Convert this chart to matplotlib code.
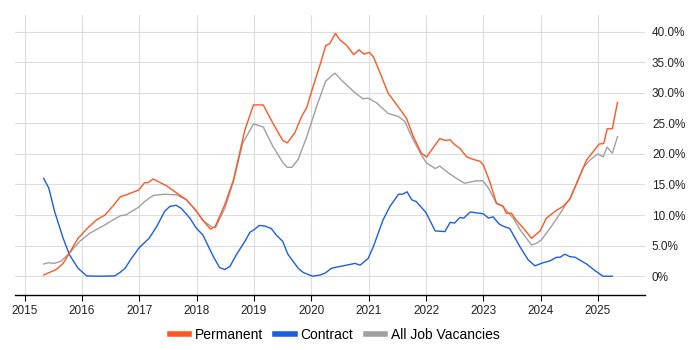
import matplotlib
matplotlib.use("Agg")
import matplotlib.pyplot as plt
from matplotlib.ticker import FuncFormatter, FixedLocator
from matplotlib.lines import Line2D

plt.rcParams['font.family'] = ['Liberation Sans', 'DejaVu Sans']

perm_x = [2015.33, 2015.55, 2015.67, 2015.78, 2015.93, 2016.10, 2016.25, 2016.40, 2016.54, 2016.67,
          2016.77, 2016.99, 2017.09, 2017.15, 2017.24, 2017.34, 2017.47, 2017.62, 2017.82, 2017.99,
          2018.11, 2018.24, 2018.32, 2018.49, 2018.64, 2018.84, 2018.99, 2019.16, 2019.33, 2019.50,
          2019.58, 2019.71, 2019.83, 2019.92, 2020.03, 2020.16, 2020.25, 2020.32, 2020.42, 2020.50,
          2020.61, 2020.74, 2020.83, 2020.92, 2021.01, 2021.08, 2021.20, 2021.34, 2021.49, 2021.66,
          2021.78, 2021.92, 2022.01, 2022.24, 2022.33, 2022.42, 2022.50, 2022.59, 2022.71, 2022.82,
          2022.94, 2023.00, 2023.11, 2023.23, 2023.34, 2023.40, 2023.49, 2023.57, 2023.72, 2023.84,
          2023.99, 2024.10, 2024.28, 2024.39, 2024.51, 2024.63, 2024.80, 2024.92, 2025.02, 2025.10,
          2025.16, 2025.25, 2025.34]
perm_y = [0.2, 1.1, 2.1, 3.8, 6.2, 7.9, 9.2, 10.0, 11.5, 13.0,
          13.3, 14.1, 15.3, 15.3, 15.9, 15.4, 14.8, 13.8, 12.5, 10.7,
          9.1, 7.7, 8.1, 11.7, 15.7, 23.9, 28.0, 28.0, 25.0, 22.2,
          21.8, 23.4, 26.1, 27.6, 31.0, 34.8, 37.7, 38.0, 39.7, 38.6,
          37.8, 36.2, 37.0, 36.3, 36.6, 35.9, 33.2, 29.9, 28.0, 25.8,
          22.8, 20.1, 19.5, 22.5, 22.2, 22.3, 21.5, 20.9, 19.5, 19.1,
          18.8, 18.2, 15.5, 11.9, 11.5, 10.3, 10.3, 9.2, 7.6, 6.2,
          7.4, 9.5, 10.8, 11.4, 12.6, 15.2, 19.0, 20.4, 21.6, 21.7,
          24.1, 24.1, 28.4]

all_x = [2015.33, 2015.41, 2015.52, 2015.64, 2015.78, 2015.96, 2016.13, 2016.40, 2016.54, 2016.67,
         2016.76, 2016.99, 2017.09, 2017.24, 2017.44, 2017.65, 2017.82, 2017.99, 2018.11, 2018.27,
         2018.33, 2018.49, 2018.64, 2018.80, 2018.99, 2019.16, 2019.33, 2019.50, 2019.58, 2019.66,
         2019.77, 2019.92, 2020.09, 2020.25, 2020.41, 2020.50, 2020.61, 2020.76, 2020.90, 2020.99,
         2021.13, 2021.34, 2021.52, 2021.63, 2021.75, 2021.92, 2022.01, 2022.16, 2022.24, 2022.36,
         2022.53, 2022.67, 2022.88, 2022.99, 2023.09, 2023.23, 2023.34, 2023.52, 2023.64, 2023.84,
         2023.93, 2024.01, 2024.16, 2024.30, 2024.45, 2024.51, 2024.74, 2024.86, 2025.00, 2025.09,
         2025.16, 2025.25, 2025.34]
all_y = [2.0, 2.2, 2.1, 2.5, 3.8, 5.7, 7.0, 8.4, 9.2, 9.9,
         10.0, 11.3, 12.2, 13.2, 13.4, 13.3, 12.5, 10.7, 9.1, 8.0,
         8.0, 11.1, 15.5, 21.7, 24.9, 24.4, 21.2, 18.6, 17.8, 17.8,
         19.1, 22.8, 27.7, 31.9, 33.2, 32.3, 31.3, 30.0, 29.0, 29.1,
         28.4, 26.6, 26.1, 25.3, 22.8, 19.8, 18.5, 17.6, 18.0, 17.1,
         16.0, 15.2, 15.6, 15.6, 14.4, 11.9, 11.4, 9.5, 7.6, 5.1,
         5.4, 5.9, 7.8, 9.7, 11.9, 12.7, 17.7, 19.0, 20.0, 19.5,
         21.1, 20.1, 22.8]

con_x = [2015.33, 2015.42, 2015.52, 2015.67, 2015.78, 2015.93, 2016.08, 2016.30, 2016.57, 2016.66,
         2016.75, 2016.86, 2017.00, 2017.17, 2017.30, 2017.44, 2017.53, 2017.64, 2017.73, 2017.88,
         2017.99, 2018.11, 2018.29, 2018.40, 2018.49, 2018.58, 2018.69, 2018.84, 2018.93, 2019.00,
         2019.09, 2019.19, 2019.30, 2019.39, 2019.50, 2019.59, 2019.77, 2019.86, 2020.02, 2020.15,
         2020.24, 2020.35, 2020.50, 2020.61, 2020.76, 2020.85, 2020.99, 2021.08, 2021.25, 2021.37,
         2021.52, 2021.59, 2021.67, 2021.75, 2021.83, 2022.00, 2022.16, 2022.33, 2022.42, 2022.50,
         2022.59, 2022.66, 2022.77, 2022.85, 2023.00, 2023.09, 2023.17, 2023.28, 2023.34, 2023.46,
         2023.64, 2023.78, 2023.90, 2024.04, 2024.16, 2024.28, 2024.34, 2024.42, 2024.51, 2024.60,
         2024.80, 2024.95, 2025.09, 2025.25]
con_y = [16.0, 14.4, 10.6, 6.2, 3.5, 1.3, 0.05, 0.0, 0.05, 0.6,
         1.3, 2.9, 4.7, 6.2, 8.1, 10.6, 11.4, 11.6, 11.1, 9.5,
         7.9, 6.7, 3.2, 1.4, 1.1, 1.6, 3.5, 5.7, 7.2, 7.6,
         8.3, 8.2, 7.8, 6.7, 5.7, 3.6, 1.3, 0.6, 0.0, 0.2,
         0.5, 1.3, 1.6, 1.8, 2.1, 1.8, 2.9, 4.8, 9.2, 11.4,
         13.4, 13.4, 13.8, 12.5, 12.2, 10.4, 7.4, 7.3, 8.8, 8.7,
         9.6, 9.5, 10.5, 10.4, 10.2, 9.5, 9.7, 8.5, 8.2, 7.8,
         4.8, 2.7, 1.7, 2.2, 2.5, 3.1, 3.1, 3.6, 3.2, 3.1,
         2.0, 0.9, 0.0, 0.0]

years = list(range(2015, 2026))
y_ticks = [0, 5, 10, 15, 20, 25, 30, 35, 40]

c_perm = '#FF5722'
c_con = '#1A5FE0'
c_all = '#A0A0A0'

fig = plt.figure(figsize=(7, 3.5), dpi=100)
ax = fig.add_axes([15/700, 1 - 295/350, 630/700, 280/350])

ax.plot(all_x, all_y, color=c_all, lw=1.0, label='All Job Vacancies', zorder=2)
ax.plot(con_x, con_y, color=c_con, lw=1.0, label='Contract', zorder=3)
ax.plot(perm_x, perm_y, color=c_perm, lw=1.0, label='Permanent', zorder=4)

ax.set_xlim(2014.83, 2025.82)
ax.set_ylim(-3.07, 42.7)

ax.xaxis.set_major_locator(FixedLocator(years))
ax.set_xticklabels([str(y) for y in years])
ax.yaxis.set_major_locator(FixedLocator(y_ticks))
ax.yaxis.set_major_formatter(FuncFormatter(lambda v, p: '0%' if v == 0 else f'{v:.1f}%'))
ax.yaxis.tick_right()

for s in ['top', 'left', 'right']:
    ax.spines[s].set_visible(False)
ax.spines['bottom'].set_color('black')
ax.spines['bottom'].set_linewidth(1.0)

ax.grid(True, color='#DDDDDD', lw=0.8)
ax.set_axisbelow(True)
ax.tick_params(axis='y', length=0, pad=5, labelsize=8.5)
ax.tick_params(axis='x', length=4, width=0.8, pad=3, labelsize=8.5, colors='black')
for lab in ax.get_xticklabels() + ax.get_yticklabels():
    lab.set_color('#222222')

handles = [Line2D([0], [0], color=c_perm, lw=4),
           Line2D([0], [0], color=c_con, lw=4),
           Line2D([0], [0], color=c_all, lw=4)]
fig.legend(handles, ['Permanent', 'Contract', 'All Job Vacancies'],
           loc='center', bbox_to_anchor=(0.478, 1 - 335/350), ncol=3, frameon=False,
           fontsize=10, handlelength=1.4, handletextpad=0.4, columnspacing=0.9)

fig.savefig('out.png', dpi=100)
